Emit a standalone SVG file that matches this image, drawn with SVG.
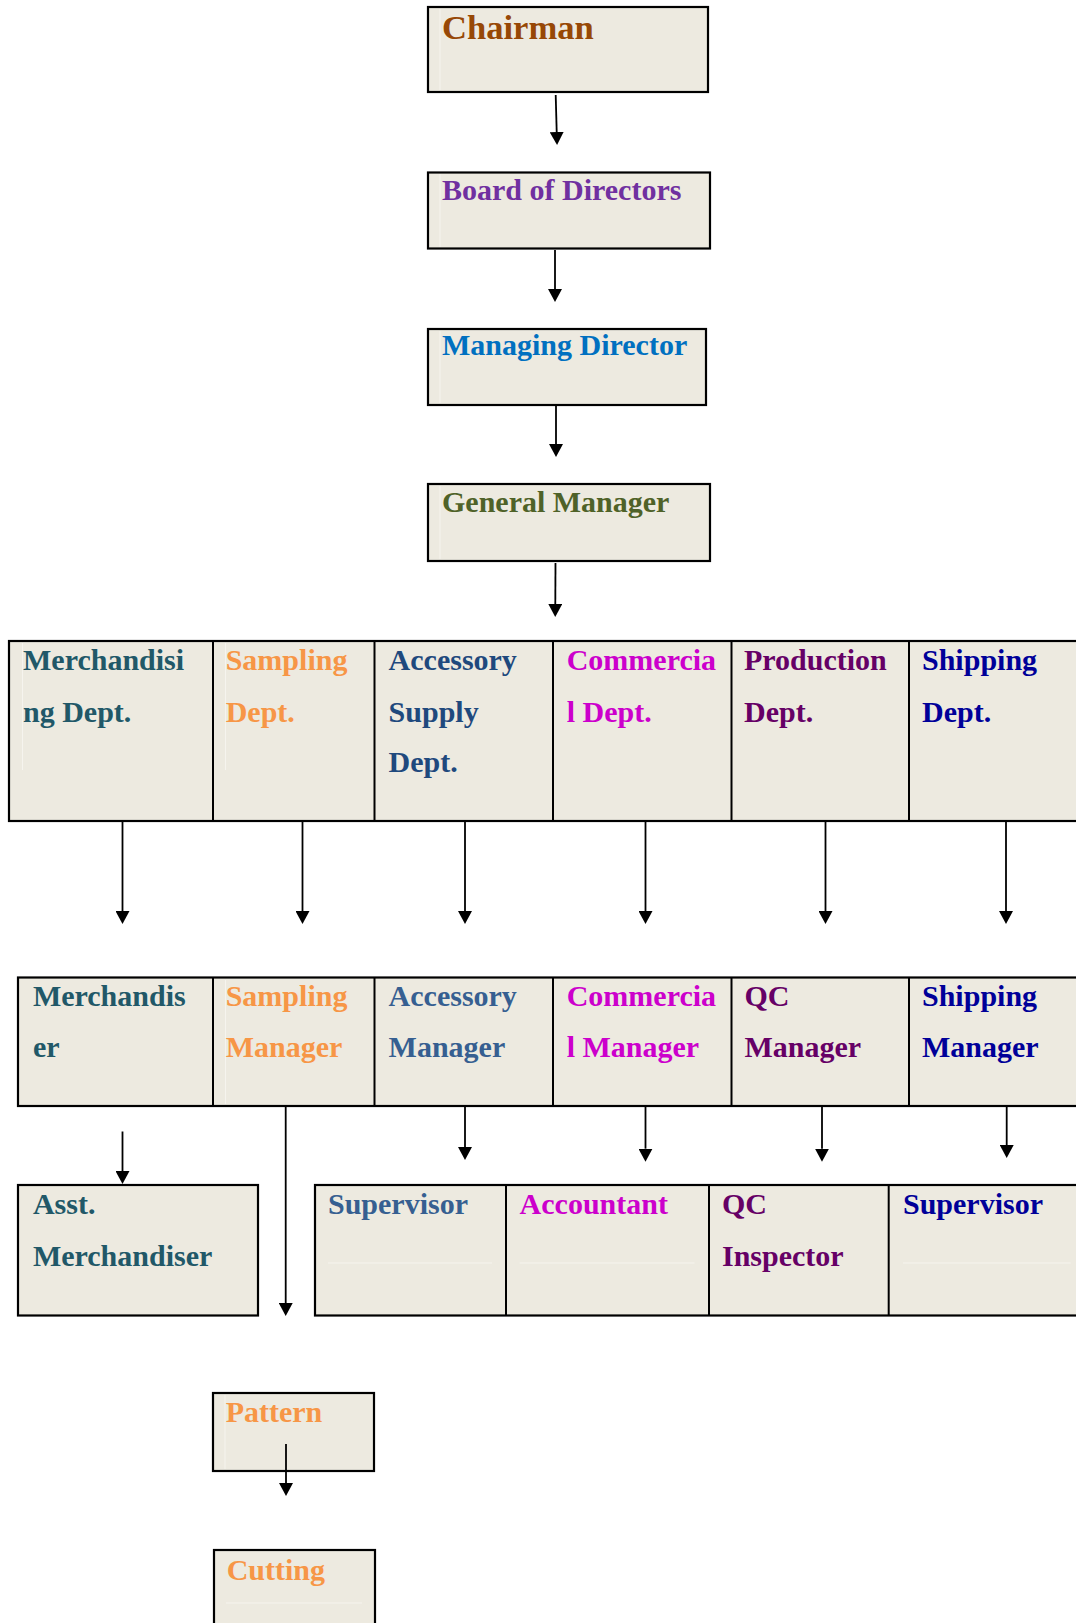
<svg xmlns="http://www.w3.org/2000/svg" width="1076" height="1623" viewBox="0 0 1076 1623">
  <defs>
    <marker id="head" markerUnits="userSpaceOnUse" markerWidth="14" markerHeight="14" viewBox="0 -7 14 14" refX="0" refY="0" orient="auto">
      <path d="M0,-7 L13,0 L0,7 Z" fill="#000"/>
    </marker>
    <style>
      .box { fill: #EDEAE0; stroke: #000; stroke-width: 2.2; }
      .div { stroke: #000; stroke-width: 2; fill: none; }
      .edge { stroke: #F6F4EE; stroke-width: 1; fill: none; }
      .arrow { stroke: #000; stroke-width: 1.8; fill: none; marker-end: url(#head); }
      text { font-family: "Liberation Serif", "Times New Roman", serif; font-weight: bold; font-size: 30px; }
      .chair { fill: #974806; font-size: 34.6px; }
      .board { fill: #7030A0; }
      .md { fill: #0070C0; }
      .gm { fill: #4F6228; }
      .merch { fill: #215868; }
      .samp { fill: #F79646; }
      .acc1 { fill: #1F497D; }
      .acc2 { fill: #365F91; }
      .comm { fill: #CC00CC; }
      .prod { fill: #660066; }
      .ship { fill: #000099; }
    </style>
  </defs>

  <!-- top chain -->
  <g id="chairman">
    <rect class="box" x="428" y="7" width="280" height="85"/>
    <line class="edge" x1="440" y1="9" x2="440" y2="90"/>
    <text class="chair" x="442" y="39">Chairman</text>
  </g>
  <g id="board">
    <rect class="box" x="428" y="172.5" width="282" height="76"/>
    <line class="edge" x1="440" y1="174" x2="440" y2="247"/>
    <text class="board" x="442" y="200">Board of Directors</text>
  </g>
  <g id="managing-director">
    <rect class="box" x="428" y="329" width="278" height="76"/>
    <line class="edge" x1="440" y1="331" x2="440" y2="403"/>
    <text class="md" x="442" y="355">Managing Director</text>
  </g>
  <g id="general-manager">
    <rect class="box" x="428" y="484" width="282" height="77"/>
    <line class="edge" x1="440" y1="486" x2="440" y2="559"/>
    <text class="gm" x="442" y="512">General Manager</text>
  </g>

  <!-- departments -->
  <g id="departments">
    <rect class="box" x="9" y="641" width="1100" height="180"/>
    <line class="div" x1="213" y1="641" x2="213" y2="821"/>
    <line class="div" x1="374.5" y1="641" x2="374.5" y2="821"/>
    <line class="div" x1="553" y1="641" x2="553" y2="821"/>
    <line class="div" x1="731.5" y1="641" x2="731.5" y2="821"/>
    <line class="div" x1="909" y1="641" x2="909" y2="821"/>
    <line class="edge" x1="22.5" y1="643" x2="22.5" y2="770"/>
    <line class="edge" x1="225.5" y1="643" x2="225.5" y2="770"/>
    <g id="dept-merchandising">
      <text class="merch" x="23" y="670">Merchandisi</text>
      <text class="merch" x="23" y="722">ng Dept.</text>
    </g>
    <g id="dept-sampling">
      <text class="samp" x="225.7" y="670">Sampling</text>
      <text class="samp" x="225.7" y="722">Dept.</text>
    </g>
    <g id="dept-accessory">
      <text class="acc1" x="388.6" y="670">Accessory</text>
      <text class="acc1" x="388.6" y="722">Supply</text>
      <text class="acc1" x="388.6" y="772">Dept.</text>
    </g>
    <g id="dept-commercial">
      <text class="comm" x="566.7" y="670">Commercia</text>
      <text class="comm" x="566.7" y="722">l Dept.</text>
    </g>
    <g id="dept-production">
      <text class="prod" x="744" y="670">Production</text>
      <text class="prod" x="744" y="722">Dept.</text>
    </g>
    <g id="dept-shipping">
      <text class="ship" x="922" y="670">Shipping</text>
      <text class="ship" x="922" y="722">Dept.</text>
    </g>
  </g>

  <!-- managers -->
  <g id="managers">
    <rect class="box" x="18" y="977.5" width="1100" height="128.5"/>
    <line class="div" x1="213" y1="977.5" x2="213" y2="1106"/>
    <line class="div" x1="374.5" y1="977.5" x2="374.5" y2="1106"/>
    <line class="div" x1="553" y1="977.5" x2="553" y2="1106"/>
    <line class="div" x1="731.5" y1="977.5" x2="731.5" y2="1106"/>
    <line class="div" x1="909" y1="977.5" x2="909" y2="1106"/>
    <line class="edge" x1="225.5" y1="980" x2="225.5" y2="1104"/>
    <g id="mgr-merchandiser">
      <text class="merch" x="32.9" y="1005.5">Merchandis</text>
      <text class="merch" x="32.9" y="1057">er</text>
    </g>
    <g id="mgr-sampling">
      <text class="samp" x="225.7" y="1005.5">Sampling</text>
      <text class="samp" x="225.7" y="1057">Manager</text>
    </g>
    <g id="mgr-accessory">
      <text class="acc2" x="388.6" y="1005.5">Accessory</text>
      <text class="acc2" x="388.6" y="1057">Manager</text>
    </g>
    <g id="mgr-commercial">
      <text class="comm" x="566.7" y="1005.5">Commercia</text>
      <text class="comm" x="566.7" y="1057">l Manager</text>
    </g>
    <g id="mgr-qc">
      <text class="prod" x="744.4" y="1005.5">QC</text>
      <text class="prod" x="744.4" y="1057">Manager</text>
    </g>
    <g id="mgr-shipping">
      <text class="ship" x="922" y="1005.5">Shipping</text>
      <text class="ship" x="922" y="1057">Manager</text>
    </g>
  </g>

  <!-- staff -->
  <g id="asst-merchandiser">
    <rect class="box" x="18" y="1185" width="240" height="130.5"/>
    <text class="merch" x="32.9" y="1214">Asst.</text>
    <text class="merch" x="32.9" y="1265.5">Merchandiser</text>
  </g>
  <g id="staff">
    <rect class="box" x="315" y="1185" width="800" height="130.5"/>
    <line class="div" x1="506" y1="1185" x2="506" y2="1315.5"/>
    <line class="div" x1="709" y1="1185" x2="709" y2="1315.5"/>
    <line class="div" x1="888.7" y1="1185" x2="888.7" y2="1315.5"/>
    <line class="edge" x1="328" y1="1263" x2="492" y2="1263"/>
    <line class="edge" x1="519.6" y1="1263" x2="694.5" y2="1263"/>
    <line class="edge" x1="903" y1="1263" x2="1070.7" y2="1263"/>
    <g id="staff-supervisor-acc">
      <text class="acc2" x="328" y="1214">Supervisor</text>
    </g>
    <g id="staff-accountant">
      <text class="comm" x="519.6" y="1214">Accountant</text>
    </g>
    <g id="staff-qc-inspector">
      <text class="prod" x="722" y="1214">QC</text>
      <text class="prod" x="722" y="1265.5">Inspector</text>
    </g>
    <g id="staff-supervisor-ship">
      <text class="ship" x="903" y="1214">Supervisor</text>
    </g>
  </g>
  <g id="pattern">
    <rect class="box" x="213" y="1393" width="161" height="78"/>
    <line class="edge" x1="225" y1="1395" x2="225" y2="1469"/>
    <text class="samp" x="225.7" y="1421.7">Pattern</text>
  </g>
  <g id="cutting">
    <rect class="box" x="214" y="1550" width="161" height="100"/>
    <line class="edge" x1="226" y1="1603" x2="362" y2="1603"/>
    <text class="samp" x="226.7" y="1580">Cutting</text>
  </g>

  <!-- connectors -->
  <g id="connectors">
    <line class="arrow" x1="555.7" y1="95" x2="556.7" y2="132"/>
    <line class="arrow" x1="555" y1="250" x2="555" y2="289"/>
    <line class="arrow" x1="556" y1="406" x2="556" y2="444"/>
    <line class="arrow" x1="555.5" y1="563" x2="555.3" y2="604"/>

    <line class="arrow" x1="122.5" y1="822" x2="122.5" y2="911"/>
    <line class="arrow" x1="302.5" y1="822" x2="302.5" y2="911"/>
    <line class="arrow" x1="465" y1="822" x2="465" y2="911"/>
    <line class="arrow" x1="645.5" y1="822" x2="645.5" y2="911"/>
    <line class="arrow" x1="825.5" y1="822" x2="825.5" y2="911"/>
    <line class="arrow" x1="1006" y1="822" x2="1006" y2="911"/>

    <line class="arrow" x1="122.5" y1="1131.5" x2="122.5" y2="1171"/>
    <line class="arrow" x1="285.7" y1="1107" x2="285.7" y2="1303"/>
    <line class="arrow" x1="465" y1="1107" x2="465" y2="1147"/>
    <line class="arrow" x1="645.5" y1="1107" x2="645.5" y2="1148.7"/>
    <line class="arrow" x1="822" y1="1107" x2="822" y2="1148.7"/>
    <line class="arrow" x1="1006.7" y1="1107" x2="1006.7" y2="1145"/>

    <line class="arrow" x1="286" y1="1444" x2="286" y2="1483"/>
  </g>
</svg>
